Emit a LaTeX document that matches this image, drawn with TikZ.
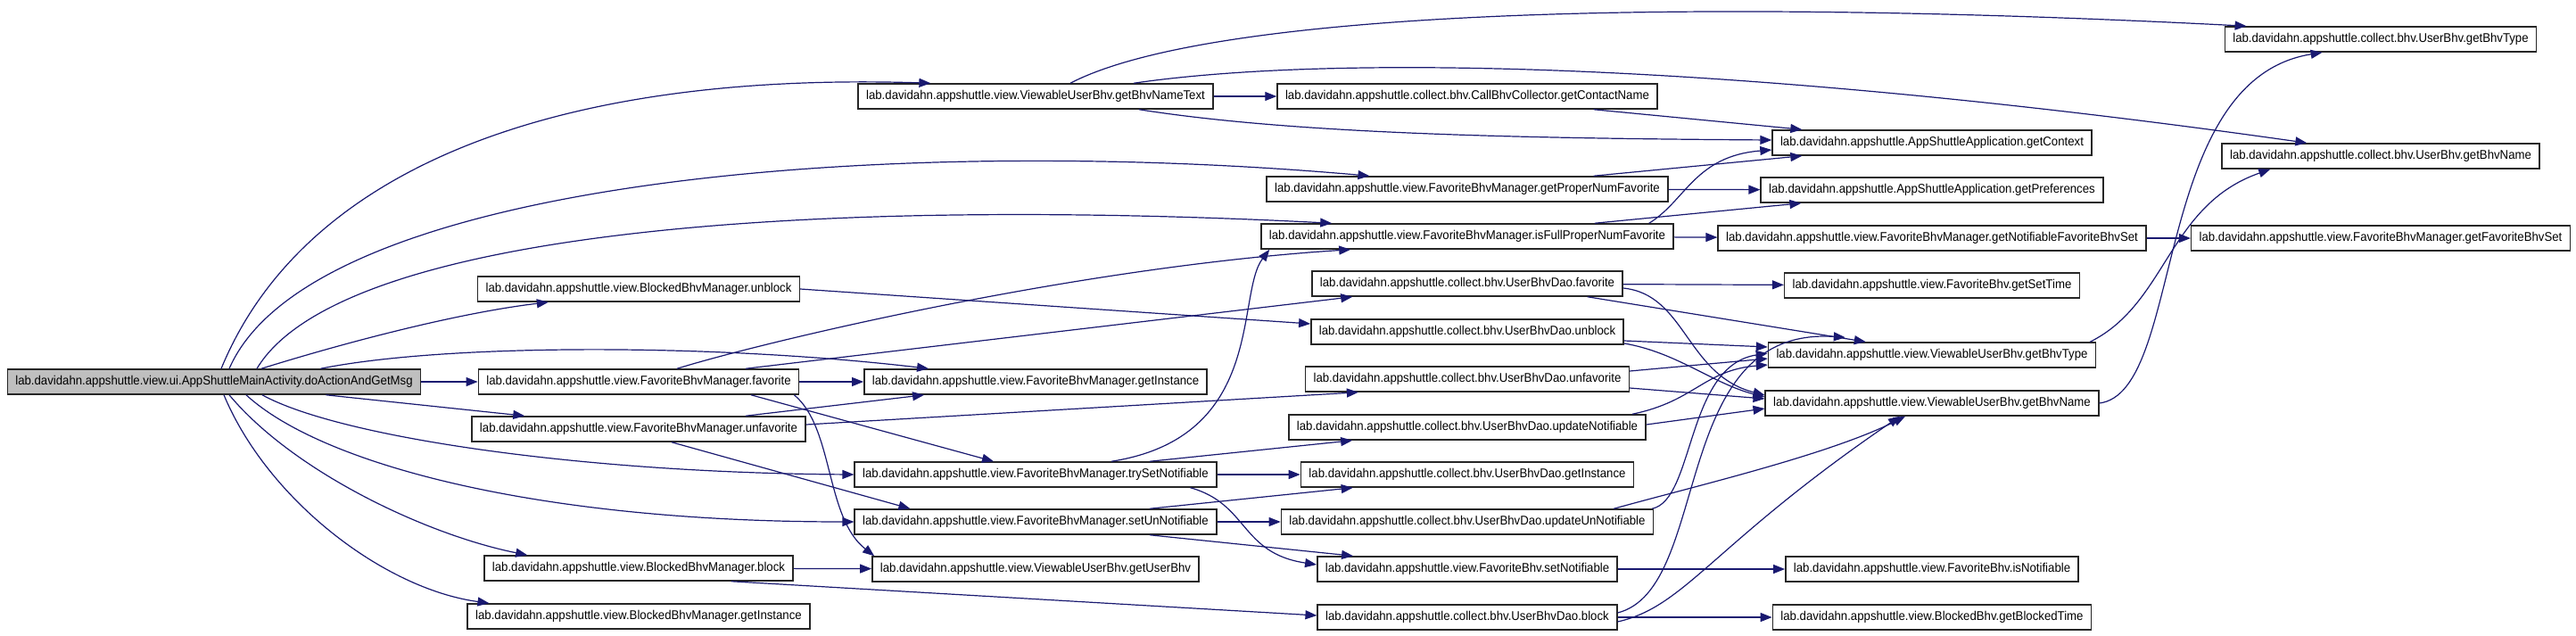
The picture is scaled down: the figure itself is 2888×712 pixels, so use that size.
\documentclass[tikz,border=0pt]{standalone}
\usepackage{fontspec}
\setmainfont{Liberation Sans}[FakeStretch=0.93]
\usetikzlibrary{arrows.meta}
\definecolor{EdgeBlue}{RGB}{25,25,112}
\definecolor{RootGray}{RGB}{191,191,191}

\begin{document}
\begin{tikzpicture}[x=1pt, y=1pt,
  box/.style={draw=black!85, fill=white, line width=1.5pt, inner xsep=9pt, inner ysep=0pt,
              minimum height=28pt, font=\fontsize{14.2pt}{16pt}\selectfont},
  arrow/.style={-{Triangle[length=13pt,width=10pt]}, line width=1.2pt, EdgeBlue},
]
  \useasboundingbox (0,0) rectangle (2888,-712);

  \node[box, fill=RootGray] (main) at (240,-428)
    {lab.davidahn.appshuttle.view.ui.AppShuttleMainActivity.doActionAndGetMsg};

  \node[box] (bmUnblock) at (716,-324) {lab.davidahn.appshuttle.view.BlockedBhvManager.unblock};
  \node[box] (favorite) at (716,-428) {lab.davidahn.appshuttle.view.FavoriteBhvManager.favorite};
  \node[box] (unfavorite) at (716,-481) {lab.davidahn.appshuttle.view.FavoriteBhvManager.unfavorite};
  \node[box] (bmBlock) at (716,-637) {lab.davidahn.appshuttle.view.BlockedBhvManager.block};
  \node[box] (bmInstance) at (716,-691) {lab.davidahn.appshuttle.view.BlockedBhvManager.getInstance};

  \node[box] (nameText) at (1161,-108) {lab.davidahn.appshuttle.view.ViewableUserBhv.getBhvNameText};
  \node[box] (fmInstance) at (1161,-428) {lab.davidahn.appshuttle.view.FavoriteBhvManager.getInstance};
  \node[box] (trySet) at (1161,-532) {lab.davidahn.appshuttle.view.FavoriteBhvManager.trySetNotifiable};
  \node[box] (setUn) at (1161,-585) {lab.davidahn.appshuttle.view.FavoriteBhvManager.setUnNotifiable};
  \node[box] (userBhv) at (1161,-638) {lab.davidahn.appshuttle.view.ViewableUserBhv.getUserBhv};

  \node[box] (contactName) at (1645,-108) {lab.davidahn.appshuttle.collect.bhv.CallBhvCollector.getContactName};
  \node[box] (properNum) at (1645,-212) {lab.davidahn.appshuttle.view.FavoriteBhvManager.getProperNumFavorite};
  \node[box] (fullProper) at (1645,-265) {lab.davidahn.appshuttle.view.FavoriteBhvManager.isFullProperNumFavorite};
  \node[box] (daoFav) at (1645,-318) {lab.davidahn.appshuttle.collect.bhv.UserBhvDao.favorite};
  \node[box] (daoUnblock) at (1645,-372) {lab.davidahn.appshuttle.collect.bhv.UserBhvDao.unblock};
  \node[box] (daoUnfav) at (1645,-425) {lab.davidahn.appshuttle.collect.bhv.UserBhvDao.unfavorite};
  \node[box] (daoUpdNot) at (1645,-479) {lab.davidahn.appshuttle.collect.bhv.UserBhvDao.updateNotifiable};
  \node[box] (daoInstance) at (1645,-532) {lab.davidahn.appshuttle.collect.bhv.UserBhvDao.getInstance};
  \node[box] (daoUpdUn) at (1645,-585) {lab.davidahn.appshuttle.collect.bhv.UserBhvDao.updateUnNotifiable};
  \node[box] (fbSetNot) at (1645,-638) {lab.davidahn.appshuttle.view.FavoriteBhv.setNotifiable};
  \node[box] (daoBlock) at (1645,-692) {lab.davidahn.appshuttle.collect.bhv.UserBhvDao.block};

  \node[box] (ctx) at (2166,-160) {lab.davidahn.appshuttle.AppShuttleApplication.getContext};
  \node[box] (prefs) at (2166,-213) {lab.davidahn.appshuttle.AppShuttleApplication.getPreferences};
  \node[box] (notifSet) at (2166,-267) {lab.davidahn.appshuttle.view.FavoriteBhvManager.getNotifiableFavoriteBhvSet};
  \node[box] (setTime) at (2166,-320) {lab.davidahn.appshuttle.view.FavoriteBhv.getSetTime};
  \node[box] (vType) at (2166,-398) {lab.davidahn.appshuttle.view.ViewableUserBhv.getBhvType};
  \node[box] (vName) at (2166,-452) {lab.davidahn.appshuttle.view.ViewableUserBhv.getBhvName};
  \node[box] (isNot) at (2166,-638) {lab.davidahn.appshuttle.view.FavoriteBhv.isNotifiable};
  \node[box] (blockedTime) at (2166,-692) {lab.davidahn.appshuttle.view.BlockedBhv.getBlockedTime};

  \node[box] (uType) at (2669,-44) {lab.davidahn.appshuttle.collect.bhv.UserBhv.getBhvType};
  \node[box] (uName) at (2669,-175) {lab.davidahn.appshuttle.collect.bhv.UserBhv.getBhvName};
  \node[box] (favSet) at (2669,-267) {lab.davidahn.appshuttle.view.FavoriteBhvManager.getFavoriteBhvSet};

  \draw[arrow] ([xshift=8pt]main.north) .. controls (340,-190) and (620,-80) .. ([xshift=82pt]nameText.north west);
  \draw[arrow] ([xshift=17pt]main.north) .. controls (350,-200) and (1000,-150) .. ([xshift=116pt]properNum.north west);
  \draw[arrow] ([xshift=48pt]main.north) .. controls (380,-260) and (900,-220) .. ([xshift=80pt]fullProper.north west);
  \draw[arrow] ([xshift=53pt]main.north) .. controls (400,-380) and (520,-350) .. ([xshift=80pt]bmUnblock.south west);
  \draw[arrow] (main) -- (favorite);
  \draw[arrow] ([xshift=-113pt]main.north east) .. controls (500,-385) and (800,-385) .. ([xshift=73pt]fmInstance.north west);
  \draw[arrow] ([xshift=-107pt]main.south east) -- ([xshift=60pt]unfavorite.north west);
  \draw[arrow] ([xshift=54pt]main.south) .. controls (380,-490) and (650,-530) .. (trySet.west);
  \draw[arrow] ([xshift=36pt]main.south) .. controls (360,-520) and (600,-585) .. (setUn.west);
  \draw[arrow] ([xshift=17pt]main.south) .. controls (330,-530) and (480,-600) .. ([xshift=49pt]bmBlock.north west);
  \draw[arrow] ([xshift=11pt]main.south) .. controls (300,-560) and (430,-660) .. ([xshift=25pt]bmInstance.north west);

  \draw[arrow] (nameText) -- (contactName);
  \draw[arrow] ([xshift=39pt]nameText.north) .. controls (1350,-15) and (1850,5) .. ([xshift=25pt]uType.north west);
  \draw[arrow] ([xshift=110pt]nameText.north) .. controls (1500,-60) and (1950,-70) .. ([xshift=96pt]uName.north west);
  \draw[arrow] ([xshift=116pt]nameText.south) .. controls (1450,-150) and (1700,-155) .. ([yshift=3pt]ctx.west);
  \draw[arrow] ([xshift=-72pt]contactName.south east) -- ([xshift=34pt]ctx.north west);
  \draw[arrow] ([xshift=-84pt]properNum.north east) -- ([xshift=34pt]ctx.south west);
  \draw[arrow] (properNum) -- (prefs);
  \draw[arrow] ([xshift=-28pt]fullProper.north east) .. controls (1890,-225) and (1900,-175) .. ([yshift=-8pt]ctx.west);
  \draw[arrow] ([xshift=-89pt]fullProper.north east) -- ([xshift=46pt]prefs.south west);
  \draw[arrow] (fullProper) -- (notifSet);
  \draw[arrow] (notifSet) -- (favSet);

  \draw[arrow] (bmUnblock.east) -- ([yshift=9pt]daoUnblock.west);
  \draw[arrow] ([xshift=43pt]favorite.north) .. controls (850,-385) and (1200,-300) .. ([xshift=101pt]fullProper.south west);
  \draw[arrow] ([xshift=120pt]favorite.north) -- ([xshift=46pt]daoFav.south west);
  \draw[arrow] (favorite) -- (fmInstance);
  \draw[arrow] ([xshift=126pt]favorite.south) -- ([xshift=-47pt]trySet.north);
  \draw[arrow] ([xshift=-6pt]favorite.south east) .. controls (935,-480) and (925,-580) .. ([xshift=3pt]userBhv.north west);
  \draw[arrow] ([xshift=120pt]unfavorite.north) -- ([xshift=68pt]fmInstance.south west);
  \draw[arrow] ([yshift=5pt]unfavorite.east) -- ([xshift=60pt]daoUnfav.south west);
  \draw[arrow] ([xshift=37pt]unfavorite.south) -- ([xshift=63pt]setUn.north west);

  \draw[arrow] ([xshift=85pt]trySet.north) .. controls (1420,-490) and (1385,-330) .. ([xshift=10pt]fullProper.south west);
  \draw[arrow] ([xshift=128pt]trySet.north) -- ([xshift=72pt]daoUpdNot.south west);
  \draw[arrow] (trySet) -- (daoInstance);
  \draw[arrow] ([xshift=-30pt]trySet.south east) .. controls (1400,-565) and (1390,-620) .. ([yshift=5pt]fbSetNot.west);
  \draw[arrow] ([xshift=128pt]setUn.north) -- ([xshift=59pt]daoInstance.south west);
  \draw[arrow] (setUn) -- (daoUpdUn);
  \draw[arrow] ([xshift=128pt]setUn.south) -- ([xshift=41pt]fbSetNot.north west);
  \draw[arrow] (bmBlock) -- (userBhv);
  \draw[arrow] ([xshift=104pt]bmBlock.south) -- ([yshift=2pt]daoBlock.west);

  \draw[arrow] (daoFav) -- (setTime);
  \draw[arrow] ([xshift=-40pt]daoFav.south east) -- ([xshift=110pt]vType.north west);
  \draw[arrow] ([yshift=-5pt]daoFav.east) .. controls (1890,-330) and (1890,-420) .. ([yshift=9pt]vName.west);
  \draw[arrow] ([yshift=-10pt]daoUnblock.east) -- ([yshift=9pt]vType.west);
  \draw[arrow] ([yshift=-13pt]daoUnblock.east) .. controls (1880,-395) and (1920,-430) .. ([yshift=7pt]vName.west);
  \draw[arrow] ([yshift=9pt]daoUnfav.east) -- ([yshift=-4pt]vType.west);
  \draw[arrow] ([yshift=-10pt]daoUnfav.east) -- ([yshift=5pt]vName.west);
  \draw[arrow] ([xshift=-16pt]daoUpdNot.north east) .. controls (1900,-450) and (1910,-415) .. ([yshift=-11pt]vType.west);
  \draw[arrow] ([yshift=3pt]daoUpdNot.east) -- ([yshift=-6pt]vName.west);
  \draw[arrow] ([xshift=-45pt]daoUpdUn.north east) .. controls (1900,-545) and (2050,-510) .. ([xshift=-30pt]vName.south);
  \draw[arrow] ([xshift=-2pt]daoUpdUn.north east) .. controls (1900,-560) and (1890,-410) .. ([yshift=2pt]vType.west);
  \draw[arrow] (daoBlock) -- (blockedTime);
  \draw[arrow] ([yshift=5pt]daoBlock.east) .. controls (1920,-660) and (1870,-365) .. ([xshift=87pt,yshift=5pt]vType.north west);
  \draw[arrow] ([yshift=-5pt]daoBlock.east) .. controls (1890,-680) and (1920,-610) .. ([xshift=-36pt]vName.south);
  \draw[arrow] (fbSetNot) -- (isNot);

  \draw[arrow] ([xshift=-7pt]vType.north east) .. controls (2430,-340) and (2430,-230) .. ([xshift=55pt]uName.south west);
  \draw[arrow] (vName.east) .. controls (2450,-440) and (2410,-90) .. ([xshift=110pt]uType.south west);
\end{tikzpicture}
\end{document}
